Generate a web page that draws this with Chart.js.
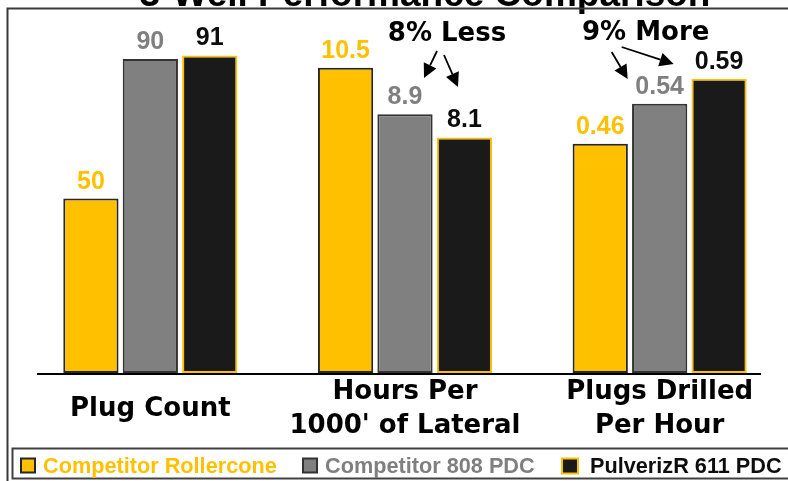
<!DOCTYPE html>
<html><head><meta charset="utf-8">
<script src="https://cdn.jsdelivr.net/npm/chart.js@4.4.1/dist/chart.umd.min.js"></script>
<style>html,body{margin:0;padding:0;background:#fff;overflow:hidden}canvas{display:block}</style>
</head><body>
<canvas id="c" width="788" height="481"></canvas>
<script>
// ---- data ----
const chartTitle = '3-Well Performance Comparison';
const categories = [['Plug Count'], ['Hours Per', "1000' of Lateral"], ['Plugs Drilled', 'Per Hour']];
const seriesNames = ['Competitor Rollercone', 'Competitor 808 PDC', 'PulverizR 611 PDC'];
const rollerconeValues = [50, 10.5, 0.46];
const pdc808Values = [90, 8.9, 0.54];
const pulverizrValues = [91, 8.1, 0.59];
const groupAxisMax = [100, 12, 0.7];   // each metric group has its own value axis
const annotationTexts = ['8% Less', '9% More'];

// ---- styles ----
const fillColors = ['#FFC000', '#808080', '#1A1A1A'];
const edgeColors = ['#262626', '#333333', '#FFC000'];
const labelColors = ['#FFC000', '#7F7F7F', '#0D0D0D'];
const seriesValues = [rollerconeValues, pdc808Values, pulverizrValues];

const datasets = [];
seriesValues.forEach((vals, s) => {
  categories.forEach((_, g) => {
    datasets.push({
      label: seriesNames[s],
      seriesIndex: s,
      data: categories.map((__, i) => (i === g ? vals[g] : null)),
      yAxisID: 'y' + g,
      backgroundColor: fillColors[s],
      borderColor: edgeColors[s],
      borderWidth: 2,
      borderSkipped: false,
      skipNull: true,
      categoryPercentage: 0.70,
      barPercentage: 0.93
    });
  });
});

function arrow(ctx, x1, y1, x2, y2) {
  const ang = Math.atan2(y2 - y1, x2 - x1), L = 14, W = 7;
  const bx = x2 - L * Math.cos(ang), by = y2 - L * Math.sin(ang);
  ctx.beginPath(); ctx.moveTo(x1, y1); ctx.lineTo(bx, by); ctx.stroke();
  ctx.beginPath(); ctx.moveTo(x2, y2);
  ctx.lineTo(bx + W * Math.sin(ang), by - W * Math.cos(ang));
  ctx.lineTo(bx - W * Math.sin(ang), by + W * Math.cos(ang));
  ctx.closePath(); ctx.fill();
}

const deco = {
  id: 'deco',
  afterDatasetsDraw(chart) {
    const ctx = chart.ctx, a = chart.chartArea, xs = chart.scales.x;
    ctx.save();
    // baseline
    ctx.strokeStyle = '#000'; ctx.lineWidth = 2;
    ctx.beginPath(); ctx.moveTo(a.left + 14, a.bottom + 1); ctx.lineTo(a.right - 26, a.bottom + 1); ctx.stroke();
    // value labels
    ctx.font = 'bold 25px "Liberation Sans", Arial, sans-serif';
    ctx.textAlign = 'center'; ctx.textBaseline = 'alphabetic';
    chart.data.datasets.forEach((ds, di) => {
      const meta = chart.getDatasetMeta(di);
      ds.data.forEach((v, i) => {
        if (v == null) return;
        const el = meta.data[i];
        ctx.fillStyle = labelColors[ds.seriesIndex];
        ctx.fillText(String(v), el.x, el.y - 10);
      });
    });
    // annotations
    const c2 = xs.getPixelForValue(1), c3 = xs.getPixelForValue(2);
    ctx.fillStyle = '#000'; ctx.strokeStyle = '#000'; ctx.lineWidth = 1.8;
    ctx.font = 'bold 26px "DejaVu Sans", sans-serif';
    ctx.fillText(annotationTexts[0], c2 + 42, 41);
    ctx.fillText(annotationTexts[1], c3 - 14, 40);
    arrow(ctx, c2 + 32, 51, c2 + 19, 78);
    arrow(ctx, c2 + 39, 55, c2 + 53, 87);
    arrow(ctx, c3 - 48, 52, c3 - 32, 79);
    arrow(ctx, c3 - 38, 47, c3 + 14, 64);
    // title (mostly cut off at the top)
    ctx.font = 'bold 37px "Liberation Sans", Arial, sans-serif';
    ctx.fillText(chartTitle, 425, 6);
    // frame
    ctx.strokeStyle = '#3A3A3A'; ctx.lineWidth = 2;
    ctx.beginPath(); ctx.moveTo(7.5, 490); ctx.lineTo(7.5, 8.5); ctx.lineTo(800, 8.5); ctx.stroke();
    // legend box
    ctx.strokeStyle = '#404040';
    ctx.strokeRect(12.5, 448.5, 800, 30);
    // legend items
    const legendX = [21, 303, 562];
    ctx.font = 'bold 21.7px "Liberation Sans", Arial, sans-serif';
    ctx.textAlign = 'left';
    seriesNames.forEach((name, s) => {
      const bw = s === 2 ? 16 : 14, bh = s === 2 ? 15 : 14;
      ctx.fillStyle = fillColors[s]; ctx.strokeStyle = edgeColors[s]; ctx.lineWidth = 2;
      ctx.fillRect(legendX[s], 458.5, bw, bh);
      ctx.strokeRect(legendX[s], 458.5, bw, bh);
      ctx.fillStyle = labelColors[s];
      ctx.fillText(name, legendX[s] + bw + (s === 2 ? 12 : 8), 473);
    });
    ctx.restore();
  }
};

const yScales = {};
groupAxisMax.forEach((m, g) => {
  yScales['y' + g] = { type: 'linear', display: false, min: 0, max: m };
});

new Chart(document.getElementById('c'), {
  type: 'bar',
  data: { labels: categories, datasets },
  options: {
    responsive: false,
    animation: false,
    devicePixelRatio: 1,
    layout: { padding: { top: 24, left: 23, right: 1, bottom: 2 } },
    plugins: { legend: { display: false }, tooltip: { enabled: false }, title: { display: false } },
    scales: Object.assign({
      x: {
        grid: { display: false, drawTicks: false },
        border: { display: false },
        ticks: {
          padding: 19,
          color: '#000',
          crossAlign: 'center',
          maxRotation: 0,
          autoSkip: false,
          font: { family: '"DejaVu Sans", sans-serif', size: 26, weight: 'bold', lineHeight: '34px' }
        }
      }
    }, yScales)
  },
  plugins: [deco]
});
</script>
</body></html>
